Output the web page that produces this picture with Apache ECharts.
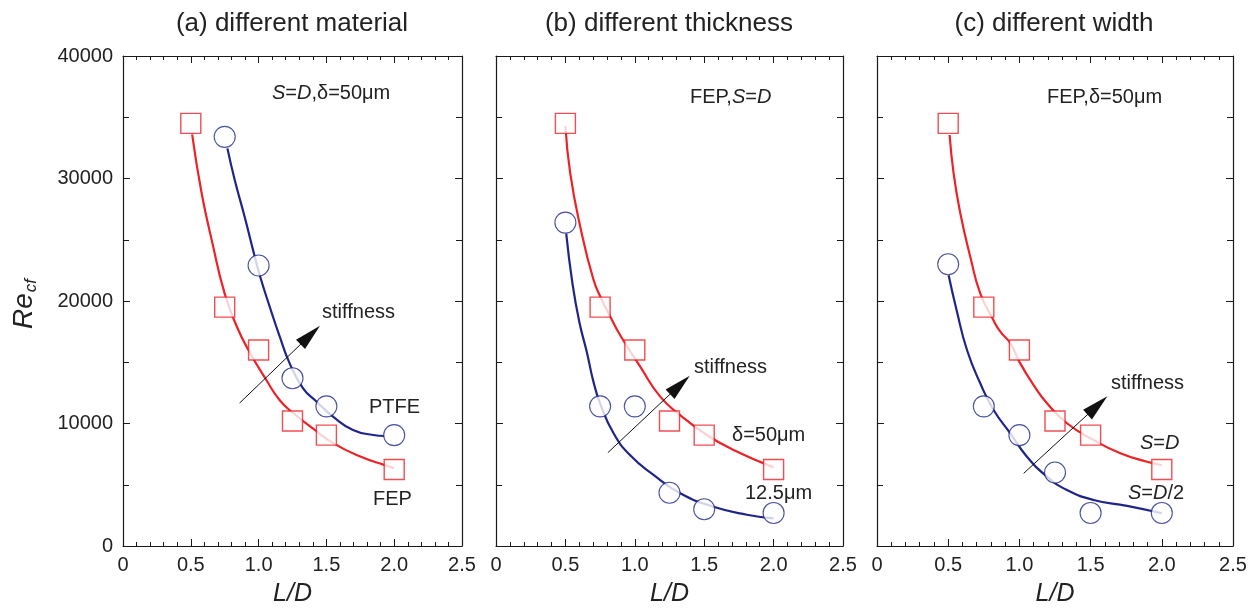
<!DOCTYPE html>
<html>
<head>
<meta charset="utf-8">
<title>Re_cf vs L/D</title>
<script src="https://cdn.jsdelivr.net/npm/echarts@6.0.0/dist/echarts.min.js"></script>
<style>
  html, body { margin: 0; padding: 0; background: #fff; }
  #main { width: 1257px; height: 613px; }
</style>
</head>
<body>
<div id="main"></div>
<script>
// measured points (L/D, Re_cf)
const ldAll = [0.5, 0.75, 1.0, 1.25, 1.5, 2.0]
const ldPtfe = [0.75, 1.0, 1.25, 1.5, 2.0]
const fepRe = [34500, 19500, 16000, 10200, 9050, 6250]
const ptfeRe = [33400, 22900, 13700, 11400, 9050]
const thinRe = [26400, 11400, 11400, 4350, 3000, 2700]   // 12.5um film
const halfRe = [23000, 11400, 9050, 6000, 2700, 2700]    // S=D/2

// fitted curves
const fitFepA = [[0.51, 33600], [0.58, 28800], [0.66, 24700], [0.75, 20600], [0.84, 17900], [0.93, 15900], [1.057, 13550], [1.156, 11900], [1.25, 10900], [1.4, 9600], [1.55, 8400], [1.75, 7300], [1.93, 6600], [2.0, 6350]]
const fitPtfe = [[0.77, 32460], [0.824, 29880], [0.897, 26880], [0.959, 24160], [1.008, 22120], [1.082, 19530], [1.156, 17090], [1.229, 14910], [1.328, 12870], [1.426, 11800], [1.549, 10560], [1.696, 9470], [1.846, 9060], [1.93, 8980]]
const fitFepB = [[0.5, 34290], [0.535, 30420], [0.607, 26070], [0.703, 21710], [0.763, 20080], [0.811, 19000], [0.895, 17200], [1.039, 14640], [1.183, 12190], [1.327, 10690], [1.519, 9060], [1.711, 7840], [2.0, 6420]]
const fitThin = [[0.506, 25500], [0.55, 21500], [0.6, 18300], [0.655, 15800], [0.7, 13500], [0.751, 11600], [0.847, 9200], [0.967, 7400], [1.135, 5800], [1.327, 4300], [1.567, 3200], [1.807, 2550], [2.0, 2250]]
const fitFepC = [[0.51, 33550], [0.538, 30420], [0.585, 27160], [0.655, 23620], [0.725, 20630], [0.819, 18400], [0.866, 17500], [0.936, 16550], [1.006, 14910], [1.1, 13140], [1.194, 11650], [1.334, 10020], [1.521, 8650], [1.709, 7570], [1.896, 6880], [2.0, 6610]]
const fitHalf = [[0.503, 22100], [0.56, 19200], [0.632, 16000], [0.725, 13280], [0.819, 11100], [0.936, 9200], [1.053, 7290], [1.194, 5660], [1.334, 4570], [1.521, 3760], [1.756, 3270], [2.0, 2670]]

// "stiffness" arrows: tail, head centre
const arrows = [
  [[0.86, 11670], [1.381, 17220]],
  [[0.806, 7620], [1.325, 13150]],
  [[1.03, 5930], [1.548, 11470]]
]

const FONT = 'Liberation Sans, Arial, sans-serif'
const RED = '#ec2227'
const BLUE = '#1f2587'
const INK = '#1a1a1a'

const grids = [
  { left: 123, top: 56, width: 339, height: 490 },
  { left: 496, top: 56, width: 347, height: 490 },
  { left: 877, top: 56, width: 356, height: 490 }
]

function pairs(xs, ys) {
  return xs.map((x, i) => [x, ys[i]])
}

function xAxisFor(i, pos) {
  const bottom = pos === 'bottom'
  return {
    type: 'value', gridIndex: i, position: pos, min: 0, max: 2.5, interval: 0.5,
    axisLine: { onZero: false, lineStyle: { color: INK, width: 1.2 } },
    axisTick: { inside: true, length: 7, lineStyle: { color: INK } },
    minorTick: { show: true, splitNumber: 5, length: 4, lineStyle: { color: INK } },
    splitLine: { show: false },
    axisLabel: {
      show: bottom, fontSize: 20, fontFamily: FONT, color: '#222', margin: 9,
      formatter: v => (v === 0 ? '0' : v.toFixed(1))
    },
    name: bottom ? 'L/D' : '', nameLocation: 'middle', nameGap: 36,
    nameTextStyle: { fontSize: 25, fontStyle: 'italic', fontFamily: FONT, color: '#222' }
  }
}

function yAxisFor(i, pos) {
  return {
    type: 'value', gridIndex: i, position: pos, min: 0, max: 40000, interval: 10000,
    axisLine: { show: true, onZero: false, lineStyle: { color: INK, width: 1.2 } },
    axisTick: { show: true, inside: true, length: 7, lineStyle: { color: INK } },
    minorTick: { show: true, splitNumber: 2, length: 6, lineStyle: { color: INK } },
    splitLine: { show: false },
    axisLabel: {
      show: i === 0 && pos === 'left', fontSize: 20, fontFamily: FONT, color: '#222', margin: 10,
      formatter: v => String(v)
    }
  }
}

function curve(i, data, color, arrow) {
  const s = {
    type: 'line', xAxisIndex: 2 * i, yAxisIndex: 2 * i, data: data,
    smooth: 0.5, showSymbol: false, z: 2, silent: true,
    lineStyle: { color: color, width: 2.2 }
  }
  if (arrow) {
    s.markLine = {
      silent: true, animation: false, label: { show: false },
      lineStyle: { color: '#111', width: 1, type: 'solid' },
      data: [[
        { coord: arrow[0], symbol: 'none' },
        { coord: arrow[1], symbol: 'triangle', symbolSize: [13, 27], itemStyle: { color: '#111' } }
      ]]
    }
  }
  return s
}

function marks(i, data, kind) {
  const sq = kind === 'square'
  return {
    type: 'scatter', xAxisIndex: 2 * i, yAxisIndex: 2 * i, data: data,
    symbol: sq ? 'rect' : 'circle', symbolSize: sq ? 20 : 21, z: 3, silent: true,
    itemStyle: { color: '#fff', borderColor: sq ? RED : BLUE, borderWidth: sq ? 1.4 : 1.1 }
  }
}

function note(x, y, text, opts) {
  return {
    type: 'text', x: x, y: y, silent: true,
    style: Object.assign({
      text: text, fontSize: 20, fontFamily: FONT, fill: '#222',
      textAlign: 'left', textVerticalAlign: 'middle',
      rich: { i: { fontStyle: 'italic', fontSize: 20, fontFamily: FONT, fill: '#222' } }
    }, opts || {})
  }
}

const option = {
  animation: false,
  backgroundColor: '#fff',
  grid: grids,
  xAxis: [0, 1, 2].flatMap(i => [xAxisFor(i, 'bottom'), xAxisFor(i, 'top')]),
  yAxis: [0, 1, 2].flatMap(i => [yAxisFor(i, 'left'), yAxisFor(i, 'right')]),
  series: [
    curve(0, fitFepA, RED, arrows[0]),
    curve(0, fitPtfe, BLUE),
    marks(0, pairs(ldAll, fepRe), 'square'),
    marks(0, pairs(ldPtfe, ptfeRe), 'circle'),

    curve(1, fitFepB, RED, arrows[1]),
    curve(1, fitThin, BLUE),
    marks(1, pairs(ldAll, fepRe), 'square'),
    marks(1, pairs(ldAll, thinRe), 'circle'),

    curve(2, fitFepC, RED, arrows[2]),
    curve(2, fitHalf, BLUE),
    marks(2, pairs(ldAll, fepRe), 'square'),
    marks(2, pairs(ldAll, halfRe), 'circle')
  ],
  graphic: [
    note(292, 24, '(a) different material', { fontSize: 26, textAlign: 'center' }),
    note(669, 24, '(b) different thickness', { fontSize: 26, textAlign: 'center' }),
    note(1054, 24, '(c) different width', { fontSize: 26, textAlign: 'center' }),

    {
      type: 'text', x: 24, y: 304, rotation: Math.PI / 2, silent: true,
      style: {
        text: '{a|Re}{b|cf}', textAlign: 'center', textVerticalAlign: 'middle', fill: '#222',
        rich: {
          a: { fontSize: 28, fontStyle: 'italic', fontFamily: FONT, fill: '#222' },
          b: { fontSize: 17, fontStyle: 'italic', fontFamily: FONT, fill: '#222', padding: [14, 0, 0, 1] }
        }
      }
    },

    note(272, 93, '{i|S}={i|D},δ=50μm'),
    note(369, 407, 'PTFE'),
    note(373, 499, 'FEP'),
    note(322, 312, 'stiffness'),

    note(690, 97, 'FEP,{i|S}={i|D}'),
    note(732, 435, 'δ=50μm'),
    note(745, 493, '12.5μm'),
    note(694, 367, 'stiffness'),

    note(1047, 97, 'FEP,δ=50μm'),
    note(1140, 443, '{i|S}={i|D}'),
    note(1128, 493, '{i|S}={i|D}/2'),
    note(1111, 383, 'stiffness')
  ]
}

const chart = echarts.init(document.getElementById('main'), null, { renderer: 'canvas' })
chart.setOption(option)
</script>
</body>
</html>
